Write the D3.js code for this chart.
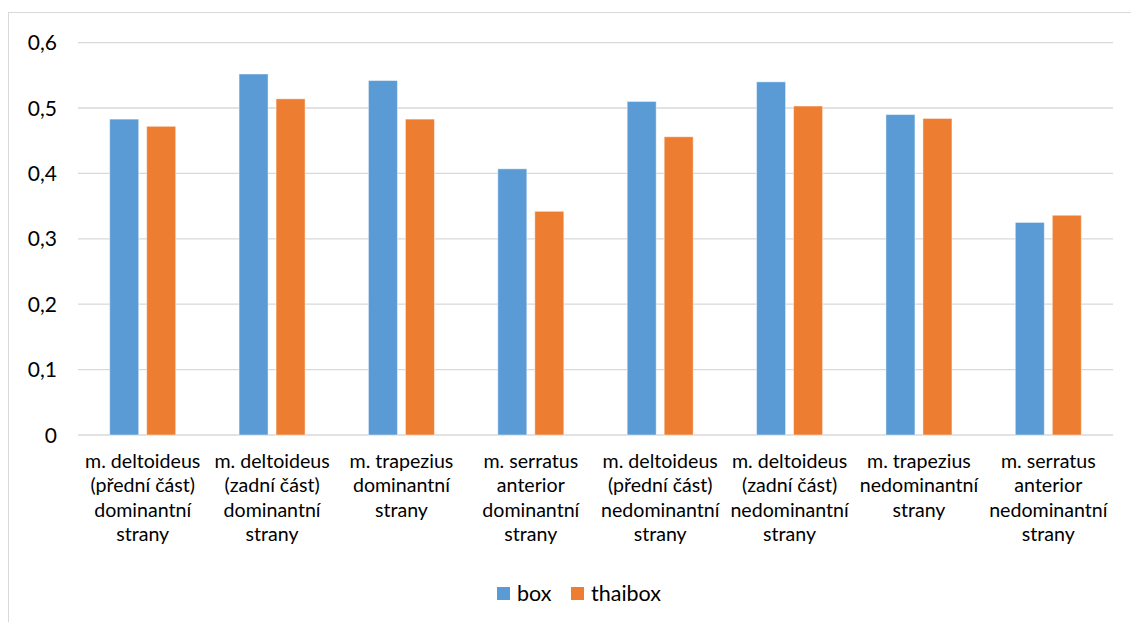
<!DOCTYPE html>
<html>
<head>
<meta charset="utf-8">
<script src="https://cdn.jsdelivr.net/npm/d3@7"></script>
<style>
  html, body { margin: 0; padding: 0; background: #fff; }
  svg { display: block; }
  text { font-family: Lato, "Open Sans", sans-serif; fill: #000; }
</style>
</head>
<body>
<svg id="chart" width="1131" height="622"></svg>
<script>
// ---- data ----
const categories = [
  "m. deltoideus\n(přední část)\ndominantní\nstrany",
  "m. deltoideus\n(zadní část)\ndominantní\nstrany",
  "m. trapezius\ndominantní\nstrany",
  "m. serratus\nanterior\ndominantní\nstrany",
  "m. deltoideus\n(přední část)\nnedominantní\nstrany",
  "m. deltoideus\n(zadní část)\nnedominantní\nstrany",
  "m. trapezius\nnedominantní\nstrany",
  "m. serratus\nanterior\nnedominantní\nstrany"
];
const seriesNames = ["box", "thaibox"];
const boxValues = [0.483, 0.552, 0.542, 0.407, 0.510, 0.540, 0.490, 0.325];
const thaiboxValues = [0.472, 0.514, 0.483, 0.342, 0.456, 0.503, 0.484, 0.336];
const yTicks = [0, 0.1, 0.2, 0.3, 0.4, 0.5, 0.6];
const colors = ["#5B9BD5", "#ED7D31"];

const seriesValues = [boxValues, thaiboxValues];

const svg = d3.select("#chart");

// chart area border
svg.append("rect")
  .attr("x", 8.5).attr("y", 12.5)
  .attr("width", 1140).attr("height", 640)
  .attr("fill", "none").attr("stroke", "#d9d9d9").attr("stroke-width", 1);

const plotLeft = 78, plotRight = 1113, plotTop = 42.6, plotBottom = 435;

const y = d3.scaleLinear().domain([0, 0.6]).range([plotBottom, plotTop]);
const x0 = d3.scaleBand().domain(categories).range([plotLeft, plotRight]).padding(0);
const groupW = 66;
const x1 = d3.scaleBand().domain(seriesNames).range([0, groupW]).paddingInner(2 - 66 / 37);

// gridlines
svg.append("g").selectAll("line").data(yTicks).join("line")
  .attr("x1", plotLeft).attr("x2", plotRight)
  .attr("y1", d => y(d)).attr("y2", d => y(d))
  .attr("stroke", "#d9d9d9").attr("stroke-width", 1.3);

// y tick labels
const fmt = d => d === 0 ? "0" : d3.format(".1f")(d).replace(".", ",");
svg.append("g").selectAll("text").data(yTicks).join("text")
  .attr("x", 57).attr("y", d => y(d))
  .attr("dy", "0.36em")
  .attr("text-anchor", "end")
  .attr("font-size", 21)
  .text(fmt);

// bars
const groups = svg.append("g").selectAll("g").data(categories).join("g")
  .attr("transform", d => `translate(${x0(d) + (x0.bandwidth() - groupW) / 2},0)`);

groups.selectAll("rect")
  .data((c, i) => seriesNames.map((s, k) => ({ s, k, v: seriesValues[k][i] })))
  .join("rect")
  .attr("x", d => x1(d.s))
  .attr("width", x1.bandwidth())
  .attr("y", d => y(d.v))
  .attr("height", d => y(0) - y(d.v))
  .attr("fill", d => colors[d.k])
  .attr("stroke", "#ffffff").attr("stroke-opacity", 0.45).attr("stroke-width", 1);

// category labels
const lab = svg.append("g").selectAll("text").data(categories).join("text")
  .attr("text-anchor", "middle")
  .attr("font-size", 19.6)
  .attr("transform", d => `translate(${x0(d) + x0.bandwidth() / 2},468)`);
lab.selectAll("tspan").data(d => d.split("\n")).join("tspan")
  .attr("x", 0).attr("y", (d, i) => i * 24.4)
  .text(d => d);

// legend
const legend = svg.append("g").attr("transform", "translate(497,587)");
const legX = [0, 74];
seriesNames.forEach((s, i) => {
  const g = legend.append("g").attr("transform", `translate(${legX[i]},0)`);
  g.append("rect").attr("width", 13).attr("height", 13).attr("fill", colors[i]);
  g.append("text").attr("x", 20).attr("y", 6.5).attr("dy", "0.36em")
    .attr("font-size", 21.5).text(s);
});
</script>
</body>
</html>
